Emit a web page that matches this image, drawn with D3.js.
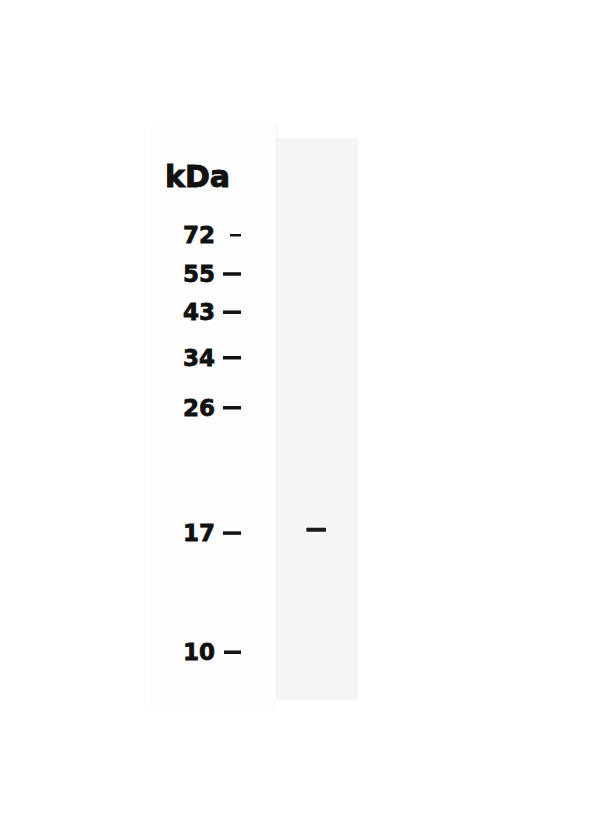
<!DOCTYPE html>
<html>
<head>
<meta charset="utf-8">
<script src="https://cdn.jsdelivr.net/npm/d3@7"></script>
<style>
  body { margin: 0; background: #fff; }
</style>
</head>
<body>
<div id="output"></div>
<script>
var markers = [72, 55, 43, 34, 26, 17, 10];
var markerRf = [0.173, 0.242, 0.310, 0.391, 0.480, 0.703, 0.915];
// short tick for the 72 marker, long ones elsewhere
var tickLength = [11, 18, 18, 18, 18, 18, 17];

// sample lane bands
var bandLanes = ["sample"];
var bandRf = [0.697];

var svg = d3.select("#output").append("svg")
  .attr("width", 600)
  .attr("height", 818);

svg.append("rect")
  .attr("width", 600).attr("height", 818)
  .attr("fill", "#ffffff");

// migration -> y within the gel
var y = d3.scaleLinear().domain([0, 1]).range([138, 700]);
var lane = d3.scaleBand().domain(bandLanes).range([276, 358]);

// faint marker-strip background
svg.append("rect")
  .attr("x", 150).attr("y", 125)
  .attr("width", 126).attr("height", 585)
  .attr("fill", "#fdfdfd");

// lane
svg.append("rect")
  .attr("x", lane.range()[0]).attr("y", y(0))
  .attr("width", lane.bandwidth()).attr("height", y(1) - y(0))
  .attr("fill", "#f5f5f5");

svg.append("line")
  .attr("x1", 277).attr("x2", 277)
  .attr("y1", 124).attr("y2", 700)
  .attr("stroke", "#eeeeee").attr("stroke-width", 1);

// unit title
svg.append("text")
  .text("kDa")
  .attr("x", 165).attr("y", 187)
  .attr("font-family", "DejaVu Sans, sans-serif")
  .attr("font-weight", "bold")
  .attr("font-size", 30)
  .attr("fill", "#111")
  .attr("stroke", "#111")
  .attr("stroke-width", 1);

var ticks = svg.selectAll("g.marker")
  .data(markers)
  .enter().append("g")
  .attr("class", "marker")
  .attr("transform", function (d, i) { return "translate(0," + y(markerRf[i]) + ")"; });

ticks.append("text")
  .text(function (d) { return d; })
  .attr("x", 215)
  .attr("y", 8)
  .attr("text-anchor", "end")
  .attr("font-family", "DejaVu Sans, sans-serif")
  .attr("font-weight", "bold")
  .attr("font-size", 23)
  .attr("fill", "#111")
  .attr("stroke", "#111")
  .attr("stroke-width", 0.8);

ticks.append("line")
  .attr("x1", function (d, i) { return 241 - tickLength[i]; })
  .attr("x2", 241)
  .attr("y1", 0).attr("y2", 0)
  .attr("stroke", "#111")
  .attr("stroke-width", function (d, i) { return i === 0 ? 2.5 : 3.5; });

// detected band
svg.selectAll("rect.band")
  .data(bandRf)
  .enter().append("rect")
  .attr("class", "band")
  .attr("x", function (d, i) { return lane(bandLanes[i]) + lane.bandwidth() * 0.37; })
  .attr("y", function (d) { return y(d) - 2; })
  .attr("width", lane.bandwidth() * 0.24)
  .attr("height", 4)
  .attr("rx", 1)
  .attr("fill", "#1a1a1a");
</script>
</body>
</html>
